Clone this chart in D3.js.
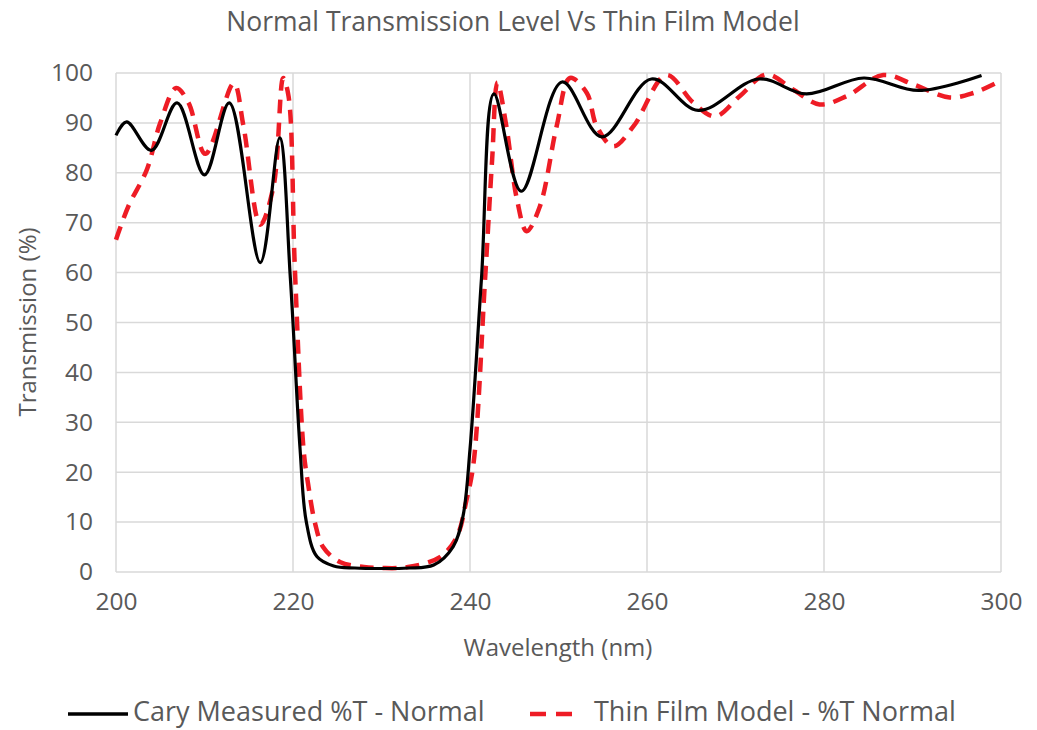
<!DOCTYPE html>
<html>
<head>
<meta charset="utf-8">
<script src="https://cdn.jsdelivr.net/npm/d3@7"></script>
<style>
  body { margin: 0; background: #fff; }
  text { font-family: "Open Sans", sans-serif; fill: #595959; }
</style>
</head>
<body>
<div id="chart"></div>
<script>
// measured curve (Cary)
const caryWl = [200, 201.2, 204.0, 206.9, 210.0, 212.8, 216.3, 218.5, 219.7, 220.8, 221.5, 222.7, 224.6, 227, 230, 233, 235.9, 238.1, 239.2, 240, 241.3, 242.7, 245.8, 250.4, 254.9, 260.5, 265.8, 272.6, 278.0, 284.5, 290.7, 297.8]
const caryT  = [87.5, 90.2, 84.5, 94.0, 79.6, 94.0, 62.0, 87.0, 58.9, 24.6, 10.1, 3.1, 1.2, 0.8, 0.7, 0.8, 1.4, 5.1, 11.1, 24.6, 58.9, 95.8, 76.3, 98.2, 87.2, 98.8, 92.5, 98.8, 95.8, 99.0, 96.5, 99.5]

// thin film model
const modelWl = [200, 201.4, 203.5, 205, 206.8, 208.2, 210.1, 213.3, 214.4, 216.3, 217.8, 218.9, 219.5, 220.2, 221.2, 221.7, 222.5, 223.4, 225.3, 228, 230, 233, 236.6, 238.5, 239.6, 240.4, 241.7, 242.5, 243.1, 244.1, 245.3, 246.4, 247.9, 249.8, 251.3, 253.2, 254.3, 256.2, 258.5, 262.2, 265.2, 267.7, 270.5, 273.5, 276.5, 279.5, 282.6, 286.7, 290.1, 294.2, 296.9, 299.9]
const modelT  = [66.6, 73.3, 80.7, 90.0, 97.0, 94.0, 83.8, 97.9, 89.4, 69.6, 77.3, 99.0, 95.3, 61.3, 24.4, 17.7, 9.7, 5.0, 2.0, 1.0, 0.8, 1.0, 3.0, 7.0, 14.4, 21.8, 58.6, 82.6, 98.1, 89.4, 74.7, 68.3, 73.3, 89.4, 99.0, 96.0, 89.4, 85.3, 89.4, 99.6, 94.1, 91.3, 95.4, 99.7, 96.7, 93.7, 95.4, 99.6, 97.7, 95.1, 96.0, 98.4]

const xTicks = [200, 220, 240, 260, 280, 300]
const yTicks = [0, 10, 20, 30, 40, 50, 60, 70, 80, 90, 100]

const width = 1037, height = 730
const margin = {top: 73, right: 36, bottom: 158, left: 116}

const svg = d3.select('#chart').append('svg')
  .attr('width', width)
  .attr('height', height)

const x = d3.scaleLinear().domain([200, 300]).range([margin.left, width - margin.right])
const y = d3.scaleLinear().domain([0, 100]).range([height - margin.bottom, margin.top])

// gridlines
svg.append('g').selectAll('line').data(yTicks).enter().append('line')
  .attr('x1', x(200)).attr('x2', x(300))
  .attr('y1', d => y(d)).attr('y2', d => y(d))
  .attr('stroke', '#d9d9d9').attr('stroke-width', 1.5)

svg.append('g').selectAll('line').data(xTicks).enter().append('line')
  .attr('x1', d => x(d)).attr('x2', d => x(d))
  .attr('y1', y(0)).attr('y2', y(100))
  .attr('stroke', '#d9d9d9').attr('stroke-width', 1.5)

// axes (labels only)
const yAxis = svg.append('g')
  .attr('transform', 'translate(' + (x(200) - 8) + ',0)')
  .call(d3.axisLeft(y).tickValues(yTicks).tickSize(0).tickPadding(15))
yAxis.select('.domain').remove()
yAxis.selectAll('text').style('font-size', '24.5px').attr('fill', '#595959')
  .style('font-family', '"Open Sans", sans-serif')

const xAxis = svg.append('g')
  .attr('transform', 'translate(0,' + y(0) + ')')
  .call(d3.axisBottom(x).tickValues(xTicks).tickSize(0).tickPadding(21))
xAxis.select('.domain').remove()
xAxis.selectAll('text').style('font-size', '24.5px').attr('fill', '#595959')
  .style('font-family', '"Open Sans", sans-serif')

// lines
const lineCary = d3.line()
  .x((d, i) => x(caryWl[i]))
  .y(d => y(d))
  .curve(d3.curveCatmullRom.alpha(0.5))

const lineModel = d3.line()
  .x((d, i) => x(modelWl[i]))
  .y(d => y(d))
  .curve(d3.curveCatmullRom.alpha(0.5))

svg.append('path')
  .datum(modelT)
  .attr('d', lineModel)
  .attr('fill', 'none')
  .attr('stroke', '#ee1c25')
  .attr('stroke-width', 4.5)
  .attr('stroke-dasharray', '14,9')

svg.append('path')
  .datum(caryT)
  .attr('d', lineCary)
  .attr('fill', 'none')
  .attr('stroke', '#000')
  .attr('stroke-width', 3.2)

// titles
svg.append('text')
  .attr('x', 513).attr('y', 31)
  .attr('text-anchor', 'middle')
  .style('font-size', '26.5px')
  .text('Normal Transmission Level Vs Thin Film Model')

svg.append('text')
  .attr('x', 558).attr('y', 656)
  .attr('text-anchor', 'middle')
  .style('font-size', '24px')
  .text('Wavelength (nm)')

svg.append('text')
  .attr('transform', 'translate(36,322) rotate(-90)')
  .attr('text-anchor', 'middle')
  .style('font-size', '24px')
  .text('Transmission (%)')

// legend
const legend = svg.append('g')
legend.append('line')
  .attr('x1', 68).attr('x2', 128).attr('y1', 714).attr('y2', 714)
  .attr('stroke', '#000').attr('stroke-width', 3.5)
legend.append('text')
  .attr('x', 133).attr('y', 721)
  .style('font-size', '27px')
  .text('Cary Measured %T - Normal')
legend.append('line')
  .attr('x1', 530).attr('x2', 580).attr('y1', 714).attr('y2', 714)
  .attr('stroke', '#ee1c25').attr('stroke-width', 4.5)
  .attr('stroke-dasharray', '16,10')
legend.append('text')
  .attr('x', 594).attr('y', 721)
  .style('font-size', '27px')
  .text('Thin Film Model - %T Normal')
</script>
</body>
</html>
